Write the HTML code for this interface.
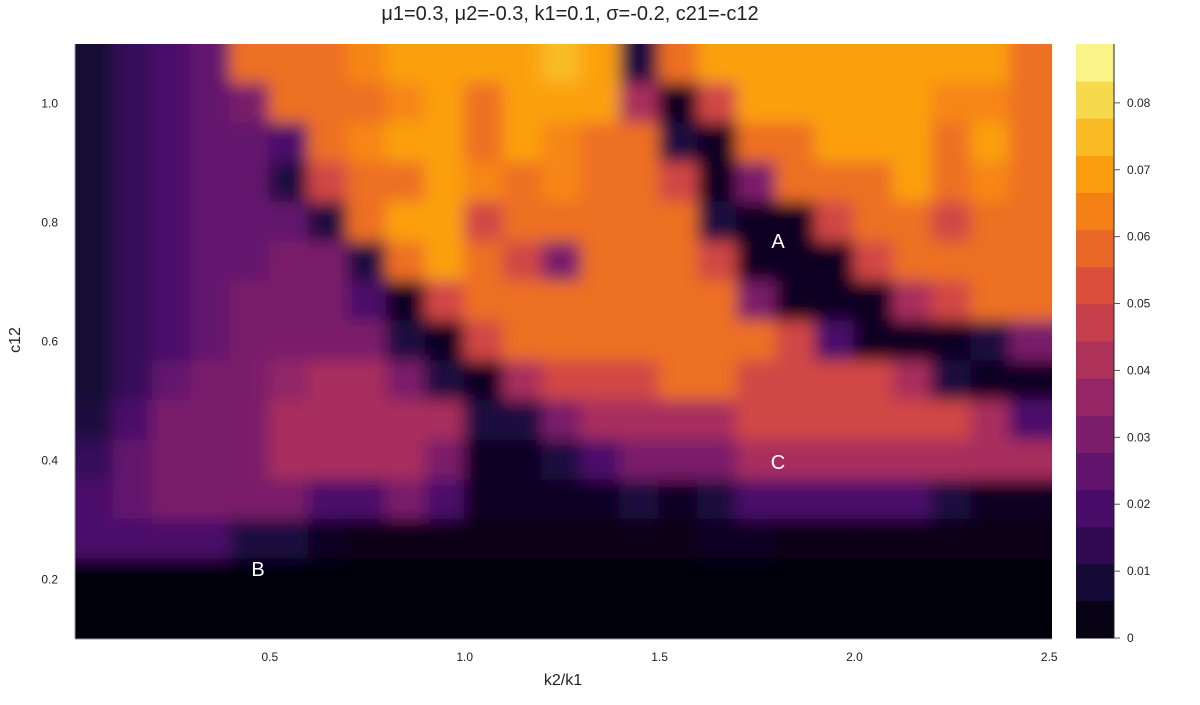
<!DOCTYPE html>
<html><head><meta charset="utf-8"><style>
body{margin:0;background:#fff;font-family:"Liberation Sans",sans-serif;}
svg text{font-family:"Liberation Sans",sans-serif;}
</style></head><body>
<svg id="chart" width="1200" height="700">
<defs>
<filter id="blur" x="-10%" y="-10%" width="120%" height="120%"><feGaussianBlur stdDeviation="8"/></filter>
<clipPath id="plotclip"><rect x="75" y="44" width="977" height="595"/></clipPath>
</defs>
<text x="570" y="20" text-anchor="middle" font-size="20" fill="#222">μ1=0.3, μ2=-0.3, k1=0.1, σ=-0.2, c21=-c12</text>
<rect x="75" y="44" width="977" height="595" fill="#000004"/>
<g id="cells" clip-path="url(#plotclip)"><g id="cellsInner" filter="url(#blur)"></g></g>
<g id="axes"></g>
<g id="cbar"></g>
<text x="778" y="248" font-size="20" fill="#fff" text-anchor="middle">A</text>
<text x="778" y="469" font-size="20" fill="#fff" text-anchor="middle">C</text>
<text x="258" y="576" font-size="20" fill="#fff" text-anchor="middle">B</text>
<text x="563" y="685" font-size="16" fill="#222" text-anchor="middle">k2/k1</text>
<text x="20" y="340" font-size="16" fill="#222" text-anchor="middle" transform="rotate(-90 20 340)">c12</text>
</svg>
<script>
const xTicks=[0.5,1.0,1.5,2.0,2.5];
const xTickLabels=["0.5","1.0","1.5","2.0","2.5"];
const yTicks=[0.2,0.4,0.6,0.8,1.0];
const yTickLabels=["0.2","0.4","0.6","0.8","1.0"];
const cbTicks=[0,0.01,0.02,0.03,0.04,0.05,0.06,0.07,0.08];
const cbTickLabels=["0","0.01","0.02","0.03","0.04","0.05","0.06","0.07","0.08"];
const xCenters=[0.05,0.15,0.25,0.35,0.45,0.55,0.65,0.75,0.85,0.95,1.05,1.15,1.25,1.35,1.45,1.55,1.65,1.75,1.85,1.95,2.05,2.15,2.25,2.35,2.45];
const yCenters=[1.067,1.0,0.933,0.867,0.8,0.733,0.667,0.6,0.533,0.467,0.4,0.333,0.267,0.2,0.133];
// values in units of 0.01
const gridRows=[
[0.8,1.5,2,2.5,6,6,6,6.5,7,7,7,7,7.5,7,1,6,7,7,7,7,7,7,7,7,6],
[0.8,1.5,2,2.5,3,6,6,6,6.5,7,6,7,7,7,4,0.5,5,7,7,7,7,7,6.5,6.5,6],
[0.8,1.5,2,2.5,2.5,2,6,6.5,7,7,6,7,6.5,6,6,1,0.5,6,6,7,7,7,6,7,6],
[0.8,1.5,2,2.5,2.5,1,5,6,6,7,6.5,6,6.5,6,6,5,0.5,3,6,6,6,7,6,6.5,6],
[0.8,1.5,2,2.5,2.5,2.5,1,6,7,7,5,6,6,6,6,6,1,0.5,0.5,5,6,6,5,6,6],
[0.8,1.5,2,2.5,2.5,3,3,1,6,7,6,5,3,6,6,6,5,0.5,0.5,0.5,5,6,6,6,6],
[0.8,1.5,2,2.5,3,3,3,2,0.5,5,6,6,6,6,6,6,6,3,0.5,0.5,0.5,4,5,6,6],
[0.8,1.5,2,2.5,3,3,3,3,1,0.5,5,6,6,6,6,6,6,6,5,2,0.5,0.5,0.5,1,3],
[0.8,1.5,2.5,3,3,3.5,4,4,3,1,0.5,4,5,5,5,6,6,5,5,5,5,4,1,0.5,0.5],
[1,2,3,3,3,4,4,4,4,4,1,1,3,4,4,4,4,5,5,5,5,5,5,4,2],
[1.5,2.5,3,3,3,4,4,4,4,3,0.5,0.5,1,2,3,3,3,4,4,4,4,4,4,4,4],
[2,2.5,3,3,3,3,2,2,3,2,0.5,0.5,0.5,0.5,1,0.5,1,2,2,2,2,2,1,0.5,0.5],
[2,2,2,2,1,1,0.5,0.3,0.3,0.3,0.3,0.3,0.3,0.3,0.3,0.3,0.5,0.5,0.3,0.3,0.3,0.3,0.3,0.3,0.3],
[0.2,0.2,0.2,0.2,0.2,0.2,0.2,0.2,0.2,0.2,0.2,0.2,0.2,0.2,0.2,0.2,0.2,0.2,0.2,0.2,0.2,0.2,0.2,0.2,0.2],
[0.2,0.2,0.2,0.2,0.2,0.2,0.2,0.2,0.2,0.2,0.2,0.2,0.2,0.2,0.2,0.2,0.2,0.2,0.2,0.2,0.2,0.2,0.2,0.2,0.2]
];
const NS="http://www.w3.org/2000/svg";
const X0=75,X1=1052,Y0=639,Y1=44;
function xs(v){return X0+(v-0)/(2.507)*(X1-X0);}
function ys(v){return Y0-(v-0.1)/(1.1-0.1)*(Y0-Y1);}
const VMAX=0.0888;
const stops=[[0,0,0,4],[0.1,22,11,57],[0.2,66,10,104],[0.3,106,23,110],[0.4,147,38,103],[0.5,188,55,84],[0.6,221,81,58],[0.7,243,120,25],[0.8,252,165,10],[0.9,246,215,70],[1,252,255,164]];
function inferno(t){t=Math.max(0,Math.min(1,t));for(let i=1;i<stops.length;i++){if(t<=stops[i][0]){const a=stops[i-1],b=stops[i];const f=(t-a[0])/(b[0]-a[0]);return `rgb(${Math.round(a[1]+f*(b[1]-a[1]))},${Math.round(a[2]+f*(b[2]-a[2]))},${Math.round(a[3]+f*(b[3]-a[3]))})`;}}return "rgb(252,255,164)";}
const cells=document.getElementById('cellsInner');
const dx=0.1, dy=(1.1-0.1)/15;
const nR=gridRows.length, nC=xCenters.length, PAD=30;
gridRows.forEach((row,j)=>{row.forEach((v,i)=>{
 const r=document.createElementNS(NS,'rect');
 let x0=xs(xCenters[i]-dx/2)-1, x1=xs(xCenters[i]+dx/2)+1;
 let y0=ys(yCenters[j]+dy/2)-1, y1=ys(yCenters[j]-dy/2)+1;
 if(i===0)x0-=PAD; if(i===nC-1)x1+=PAD; if(j===0)y0-=PAD; if(j===nR-1)y1+=PAD;
 r.setAttribute('x',x0);r.setAttribute('y',y0);
 r.setAttribute('width',x1-x0);
 r.setAttribute('height',y1-y0);
 r.setAttribute('fill',inferno(v*0.01/VMAX));
 
 
 cells.appendChild(r);
});});
const ax=document.getElementById('axes');
function add(tag,attrs,txt){const e=document.createElementNS(NS,tag);for(const k in attrs)e.setAttribute(k,attrs[k]);if(txt!==undefined)e.textContent=txt;ax.appendChild(e);return e;}
let e=add('line',{x1:X0,y1:Y0,x2:X1,y2:Y0,stroke:'#999','stroke-width':1});

e=add('line',{x1:X0,y1:Y0,x2:X0,y2:Y1,stroke:'#999','stroke-width':1});

xTicks.forEach((v,i)=>{const t=add('text',{x:xs(v),y:661,'font-size':12,fill:'#222','text-anchor':'middle'},xTickLabels[i]);
});
yTicks.forEach((v,i)=>{const t=add('text',{x:58,y:ys(v)+4,'font-size':12,fill:'#222','text-anchor':'end'},yTickLabels[i]);
});
const cb=document.getElementById('cbar');
const CB0=638,CB1=44,NB=16;
function cy(v){return CB0-v/VMAX*(CB0-CB1);}
for(let k=0;k<NB;k++){const r=document.createElementNS(NS,'rect');
 const h=(CB0-CB1)/NB;
 r.setAttribute('x',1076);r.setAttribute('y',CB0-(k+1)*h);r.setAttribute('width',38);r.setAttribute('height',h+0.5);
 r.setAttribute('fill',inferno((k+0.5)/NB));
 
 
 cb.appendChild(r);}
const cl=document.createElementNS(NS,'line');
cl.setAttribute('x1',1114);cl.setAttribute('x2',1114);cl.setAttribute('y1',CB1);cl.setAttribute('y2',CB0);cl.setAttribute('stroke','#222');


cb.appendChild(cl);
cbTicks.forEach((v,i)=>{const l=document.createElementNS(NS,'line');
 l.setAttribute('x1',1114);l.setAttribute('x2',1120);l.setAttribute('y1',cy(v));l.setAttribute('y2',cy(v));l.setAttribute('stroke','#555');
 
 
 cb.appendChild(l);
 const t=document.createElementNS(NS,'text');
 t.setAttribute('x',1127);t.setAttribute('y',cy(v)+4);t.setAttribute('font-size',12);t.setAttribute('fill','#222');
 t.textContent=cbTickLabels[i];
 
 
 cb.appendChild(t);});
</script>
</body></html>
